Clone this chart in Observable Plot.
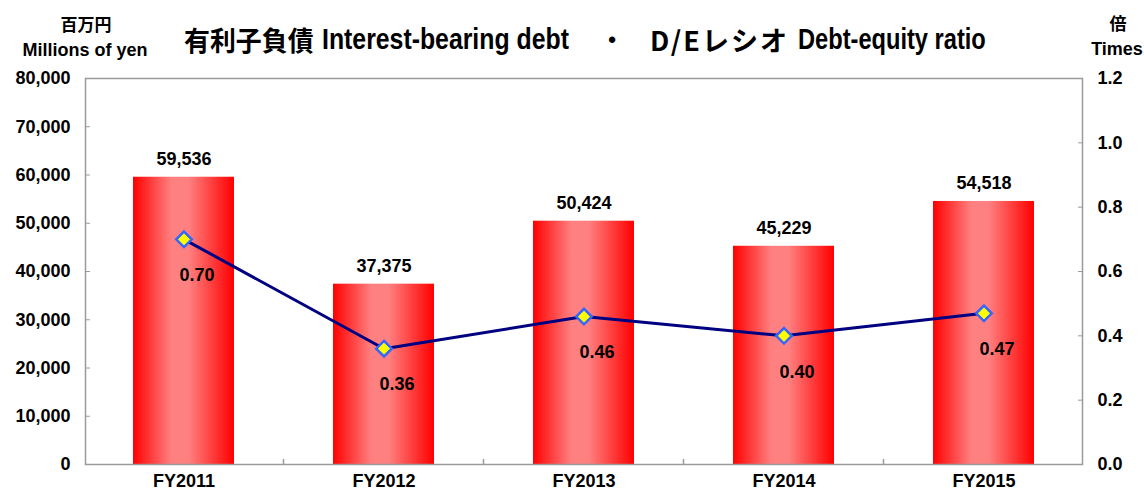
<!DOCTYPE html>
<html>
<head>
<meta charset="utf-8">
<script src="https://cdn.jsdelivr.net/npm/d3@7"></script>
<script src="https://cdn.jsdelivr.net/npm/@observablehq/plot@0.6"></script>
<style>
  html, body { margin: 0; padding: 0; background: #fff; }
  #wrap { position: relative; width: 1144px; height: 490px; font-family: "Liberation Sans", "Noto Sans CJK JP", sans-serif; font-weight: bold; color: #000; }
  .lbl { position: absolute; white-space: nowrap; transform: translate(-50%, -50%); font-weight: bold; }
  .t { position: absolute; white-space: nowrap; font-weight: bold; transform-origin: 0 50%; line-height: normal; }
  .cjk { font-family: "Noto Sans CJK JP", sans-serif; }
  .lat { font-family: "Liberation Sans", sans-serif; }
  svg text { font-family: "Liberation Sans", "Noto Sans CJK JP", sans-serif; font-weight: bold; }
</style>
</head>
<body>
<div id="wrap">
  <div id="chart"></div>
  <div class="lbl" style="left:86px; top:23px; font-size:17px;">百万円</div>
  <div class="lbl" style="left:85px; top:50px; font-size:18px;">Millions of yen</div>
  <div class="t cjk" style="left:184px; top:39px; font-size:27px; transform: translateY(-50%) scaleX(0.96);">有利子負債</div>
  <div class="t lat" style="left:322px; top:39px; font-size:29px; transform: translateY(-50%) scaleX(0.856);">Interest-bearing debt</div>
  <div class="lbl lat" style="left:612px; top:40px; font-size:22px;">•</div>
  <div class="t cjk" style="left:650px; top:39px; font-size:27px; letter-spacing:2px; transform: translateY(-50%);">D/Eレシオ</div>
  <div class="t lat" style="left:798px; top:39px; font-size:29px; transform: translateY(-50%) scaleX(0.815);">Debt-equity ratio</div>
  <div class="lbl" style="left:1118px; top:22px; font-size:17px;">倍</div>
  <div class="lbl" style="left:1117px; top:49px; font-size:18px;">Times</div>
</div>
<script>
const years = ["FY2011", "FY2012", "FY2013", "FY2014", "FY2015"];
const debt = [59536, 37375, 50424, 45229, 54518];
const ratio = [0.70, 0.36, 0.46, 0.40, 0.47];
const leftTicks = [0, 10000, 20000, 30000, 40000, 50000, 60000, 70000, 80000];
const rightTicks = [0, 0.2, 0.4, 0.6, 0.8, 1.0, 1.2];
const leftMax = 80000, rightMax = 1.2;
const k = leftMax / rightMax;

const data = years.map((y, i) => ({year: y, debt: debt[i], ratio: ratio[i]}));

const W = 1144, H = 490;
const mL = 85, mR = 62, mT = 78, mB = 26;
const padInner = 0.495, padOuter = 0.24;

const plot = Plot.plot({
  width: W, height: H,
  marginLeft: mL, marginRight: mR, marginTop: mT, marginBottom: mB,
  style: {background: "transparent", fontSize: "18px", fontWeight: "bold", color: "#000"},
  x: {domain: years, paddingInner: padInner, paddingOuter: padOuter, label: null},
  y: {domain: [0, leftMax], label: null},
  marks: [
    Plot.barY(data, {x: "year", y: "debt", fill: "url(#barGrad)"}),
    Plot.frame({stroke: "#9a9a9a", strokeWidth: 1.5}),
    Plot.axisY({anchor: "left", ticks: leftTicks, tickFormat: d3.format(","), tickSize: -5, tickPadding: 20, stroke: "#9a9a9a", fill: "#000", fontSize: 18, label: null}),
    Plot.axisY({anchor: "right", ticks: rightTicks.map(v => v * k), tickFormat: d => (d / k).toFixed(1), tickSize: -5, tickPadding: 20, stroke: "#9a9a9a", fill: "#000", fontSize: 18, label: null}),
    Plot.axisX({anchor: "bottom", tickSize: 0, tickPadding: 10, fill: "#000", fontSize: 18, label: null}),
    Plot.line(data, {x: "year", y: d => d.ratio * k, stroke: "#000080", strokeWidth: 3}),
    Plot.dot(data, {x: "year", y: d => d.ratio * k, symbol: "diamond2", r: 7, fill: "#ffff00", stroke: "#3366ff", strokeWidth: 2.5}),
    Plot.text(data, {x: "year", y: "debt", text: d => d3.format(",")(d.debt), dy: -18, fontSize: 18, fill: "#000"}),
    Plot.text(data, {x: "year", y: d => d.ratio * k, text: d => d.ratio.toFixed(2), dx: 13, dy: 36, fontSize: 18, fill: "#000"})
  ]
});

// gradient for bars
const svgNS = "http://www.w3.org/2000/svg";
const defs = document.createElementNS(svgNS, "defs");
const grad = document.createElementNS(svgNS, "linearGradient");
grad.setAttribute("id", "barGrad");
grad.setAttribute("x1", "0"); grad.setAttribute("x2", "1");
grad.setAttribute("y1", "0"); grad.setAttribute("y2", "0");
[["0%", "#ff0000"], ["38%", "#ff8080"], ["55%", "#ff8080"], ["100%", "#ff0000"]].forEach(([o, c]) => {
  const s = document.createElementNS(svgNS, "stop");
  s.setAttribute("offset", o); s.setAttribute("stop-color", c);
  grad.appendChild(s);
});
defs.appendChild(grad);
plot.insertBefore(defs, plot.firstChild);

// category separator ticks (inward) at band boundaries
const xs = d3.scaleBand().domain(years).range([mL, W - mR]).paddingInner(padInner).paddingOuter(padOuter);
const gap = (xs.step() - xs.bandwidth()) / 2;
const g = document.createElementNS(svgNS, "g");
years.slice(1).forEach(y => {
  const x = xs(y) - gap;
  const l = document.createElementNS(svgNS, "line");
  l.setAttribute("x1", x); l.setAttribute("x2", x);
  l.setAttribute("y1", H - mB); l.setAttribute("y2", H - mB - 5);
  l.setAttribute("stroke", "#9a9a9a"); l.setAttribute("stroke-width", 1.5);
  g.appendChild(l);
});
plot.appendChild(g);

document.getElementById("chart").appendChild(plot);
</script>
</body>
</html>
